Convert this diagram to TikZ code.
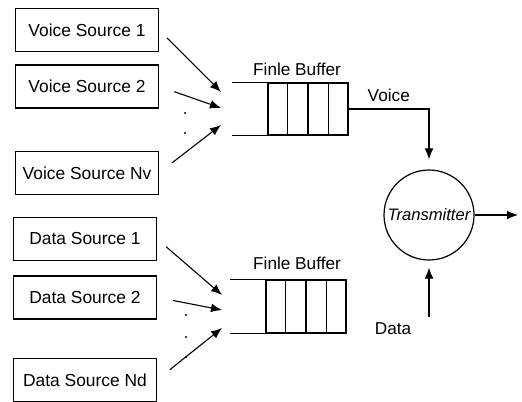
\documentclass[tikz,border=0pt]{standalone}
\usepackage{fontspec}
\setmainfont{Liberation Sans}
\usetikzlibrary{arrows.meta, positioning, calc}
\tikzset{%
	src/.style={draw, rectangle, minimum width=71.5pt, minimum height=21.5pt, inner sep=0mm,%
		line width=0.7pt, font=\fontsize{8.7}{10}\selectfont},
	buf/.style={draw, rectangle, minimum width=40pt, minimum height=26pt, inner sep=0mm, line width=0.55pt},
	sel/.style={-{Latex[length=5.5pt,width=4.4pt]}, line width=0.55pt},
	connector/.style={line width=0.55pt},
	txnode/.style={draw, circle, minimum size=45pt, inner sep=0mm, line width=0.6pt,%
		font=\fontsize{8.3}{10}\selectfont\itshape},
	lbl/.style={inner sep=0mm, font=\fontsize{8.6}{10}\selectfont},
	dot/.style={circle, fill, inner sep=0mm, minimum size=1.2pt}
}

\begin{document}
\begin{tikzpicture}[x=0.5pt, y=-0.5pt]
	\useasboundingbox (0,0) rectangle (522,401);

	%sources
	\node [src] (vs1) at (87,30) {Voice Source 1};
	\node [src, below=6pt of vs1] (vs2) {Voice Source 2};
	\node [src, below=21pt of vs2] (vsn) {Voice Source Nv};
	\node [src] (ds1) at (85,239) {Data Source 1};
	\node [src, below=7pt of ds1] (ds2) {Data Source 2};
	\node [src, below=19pt of ds2] (dsn) {Data Source Nd};
	\foreach \y in {113,133} \node [dot] (vdot\y) at (185,\y) {};
	\foreach \y in {315,337,357} \node [dot] (ddot\y) at (186,\y) {};

	%buffers
	\node [buf] (vbuf) at (308,109) {};
	\node [buf, minimum height=26.5pt] (dbuf) at (306,306.5) {};
	\foreach \b in {vbuf,dbuf} {
		\foreach \f in {0.25,0.5,0.75}
			\draw [connector] ($(\b.north west)!\f!(\b.north east)$) -- ($(\b.south west)!\f!(\b.south east)$);
		\draw [connector] (\b.north west) -- ++(-35,0);
		\draw [connector] (\b.south west) -- ++(-35,0);
	}
	\node [lbl] (vbuflbl) at (297,69) {Finle Buffer};
	\node [lbl] (dbuflbl) at (297,263) {Finle Buffer};

	%transmitter
	\node [txnode] (tx) at (429,215) {Transmitter};
	\coordinate (txout) at (518,215);
	\coordinate (datsrc) at (429,317);
	\node [lbl] (datlbl) at (393,329) {Data};

	%inputs
	\coordinate (vin1) at (221,92);
	\coordinate (vin2) at (221,108);
	\coordinate (vin3) at (221,125);
	\coordinate (din1) at (222,295);
	\coordinate (din2) at (222,310);
	\coordinate (din3) at (222,328);

	\draw [sel, shorten <=5.5pt] (vs1.east) to (vin1);
	\draw [sel, shorten <=8pt] (vs2.east) to (vin2);
	\draw [sel, shorten <=8pt] (vsn.east) to (vin3);
	\draw [sel, shorten <=6pt] (ds1.east) to (din1);
	\draw [sel, shorten <=8pt] (ds2.east) to (din2);
	\draw [sel, shorten <=8pt] (dsn.east) to (din3);

	\draw [sel, shorten >=5pt] (vbuf.east) -| node[lbl, pos=0.25, above=3.5pt]{Voice} (tx.north);
	\draw [sel, shorten >=3.5pt] (datsrc) to (tx.south);
	\draw [sel] (tx) to (txout);
\end{tikzpicture}
\end{document}
